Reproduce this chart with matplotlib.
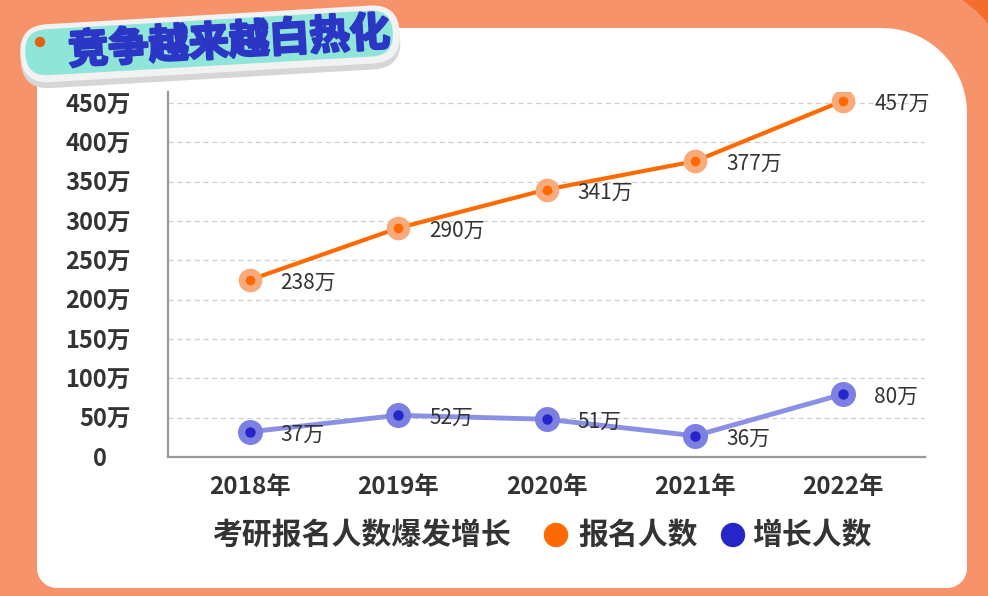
import numpy as np
import matplotlib
matplotlib.use("Agg")
import matplotlib.pyplot as plt
from matplotlib.patches import FancyBboxPatch, Circle, Rectangle, Polygon
from matplotlib.transforms import Affine2D
import matplotlib.patheffects as pe

plt.rcParams['font.family'] = ['Noto Sans CJK SC', 'DejaVu Sans']

# data
years = ['2018年', '2019年', '2020年', '2021年', '2022年']
applicants = [225, 291, 340, 376, 453]          # plotted position
applicants_label = [238, 290, 341, 377, 457]    # printed labels
growth = [32, 53, 48, 27, 80]
growth_label = [37, 52, 51, 36, 80]
yticks = [0, 50, 100, 150, 200, 250, 300, 350, 400, 450]

title_tag = '竞争越来越白热化'
legend_title = '考研报名人数爆发增长'
series_names = ['报名人数', '增长人数']

orange_bg = '#F7936A'
orange_line = '#FF6A00'
orange_halo = '#F9AA7A'
blue_line = '#8C90E4'
blue_halo = '#7C80E2'
blue_dot = '#2626C8'
text_dark = '#333333'


def rounded_panel(x0, y0, x1, y1, radii):
    # radii: top-left, top-right, bottom-right, bottom-left (y grows downward)
    pts = []
    corners = [((x0 + radii[0], y0 + radii[0]), radii[0], 180, 270),
               ((x1 - radii[1], y0 + radii[1]), radii[1], 270, 360),
               ((x1 - radii[2], y1 - radii[2]), radii[2], 0, 90),
               ((x0 + radii[3], y1 - radii[3]), radii[3], 90, 180)]
    for (cx, cy), r, a0, a1 in corners:
        t = np.radians(np.linspace(a0, a1, 30))
        pts += list(zip(cx + r * np.cos(t), cy + r * np.sin(t)))
    return pts


fig = plt.figure(figsize=(9.88, 5.96), dpi=100)
fig.patch.set_facecolor(orange_bg)

# background axes in pixel coordinates
bg = fig.add_axes([0, 0, 1, 1])
bg.set_xlim(0, 988)
bg.set_ylim(596, 0)
bg.axis('off')

# darker corner band top right
bg.add_patch(Rectangle((880, 0), 108, 70, color='#F36E2C', zorder=0))
bg.add_patch(Circle((882, 113), 138, color=orange_bg, zorder=0.5))

# white panel
bg.add_patch(Polygon(rounded_panel(37, 28, 967, 588, [20, 85, 20, 20]),
                     closed=True, fc='white', ec='none', zorder=1))

# tag pill
rot = Affine2D().rotate_deg_around(207, 42, -3.3) + bg.transData
bg.add_patch(FancyBboxPatch((20 + 28, 21 + 28), 380 - 56, 58 - 56,
                            boxstyle='round,pad=28', fc='#D6D6D6', ec='none',
                            zorder=2, transform=rot))
bg.add_patch(FancyBboxPatch((20 + 28, 15 + 28), 380 - 56, 58 - 56,
                            boxstyle='round,pad=28', fc='#F2F2F2', ec='none',
                            zorder=2.1, transform=rot))
bg.add_patch(FancyBboxPatch((25 + 22, 20 + 22), 368 - 44, 46 - 44,
                            boxstyle='round,pad=22', fc='#8FE5D7', ec='none',
                            zorder=2.2, transform=rot))
bg.add_patch(Circle((40, 42), 4.5, color='#E4600C', zorder=2.3))
bg.text(229, 43, title_tag, fontsize=29, fontweight='bold', color='#2B37C4',
        ha='center', va='center', rotation=3.3, zorder=2.4,
        path_effects=[pe.withStroke(linewidth=1.8, foreground='#2B37C4')])

# legend row
bg.text(213, 535, legend_title, fontsize=21.5, fontweight='bold', color=text_dark,
        ha='left', va='center', zorder=3)
bg.add_patch(Circle((556, 535), 11.5, color=orange_line, zorder=3))
bg.text(578, 535, series_names[0], fontsize=21.5, fontweight='bold', color=text_dark,
        ha='left', va='center', zorder=3)
bg.add_patch(Circle((733, 535), 11.5, color=blue_dot, zorder=3))
bg.text(752, 535, series_names[1], fontsize=21.5, fontweight='bold', color=text_dark,
        ha='left', va='center', zorder=3)

# main chart
ax = fig.add_axes([168 / 988, 1 - 457 / 596, (925 - 168) / 988, (457 - 92) / 596])
ax.patch.set_alpha(0)
x = np.arange(len(years))

ax.plot(x, applicants, color=orange_line, lw=3, zorder=3)
ax.plot(x, applicants, 'o', ms=16, color=orange_halo, zorder=4)
ax.plot(x, applicants, 'o', ms=6, color=orange_line, zorder=5)

ax.plot(x, growth, color=blue_line, lw=3.5, zorder=3)
ax.plot(x, growth, 'o', ms=17, color=blue_halo, zorder=4)
ax.plot(x, growth, 'o', ms=6.5, color=blue_dot, zorder=5)

for xi, yv, lab in zip(x, applicants, applicants_label):
    ax.annotate(f'{lab}万', (xi, yv), xytext=(31, -3), textcoords='offset pixels',
                ha='left', va='center', fontsize=15, color=text_dark, zorder=6)
for xi, yv, lab in zip(x, growth, growth_label):
    ax.annotate(f'{lab}万', (xi, yv), xytext=(31, -3), textcoords='offset pixels',
                ha='left', va='center', fontsize=15, color=text_dark, zorder=6)

ax.set_xlim(-0.55, 4.55)
ax.set_ylim(0, 464)
ax.set_xticks(x)
ax.set_xticklabels(years, fontsize=17.5, fontweight='bold', color=text_dark)
ax.set_yticks(yticks)
ax.set_yticklabels([f'{v}万' if v else '0\u3000' for v in yticks],
                   fontsize=17, fontweight='bold', color=text_dark)
ax.tick_params(axis='y', length=0, pad=27)
ax.tick_params(axis='x', length=0, pad=13)

for v in yticks[1:]:
    ax.axhline(v, color='#CFCFCF', lw=0.9, ls=(0, (4, 3)), zorder=1)

for s in ['top', 'right']:
    ax.spines[s].set_visible(False)
for s in ['left', 'bottom']:
    ax.spines[s].set_color('#9A9A9A')
    ax.spines[s].set_linewidth(1.6)

fig.savefig('out.png', dpi=100, facecolor=fig.get_facecolor())
